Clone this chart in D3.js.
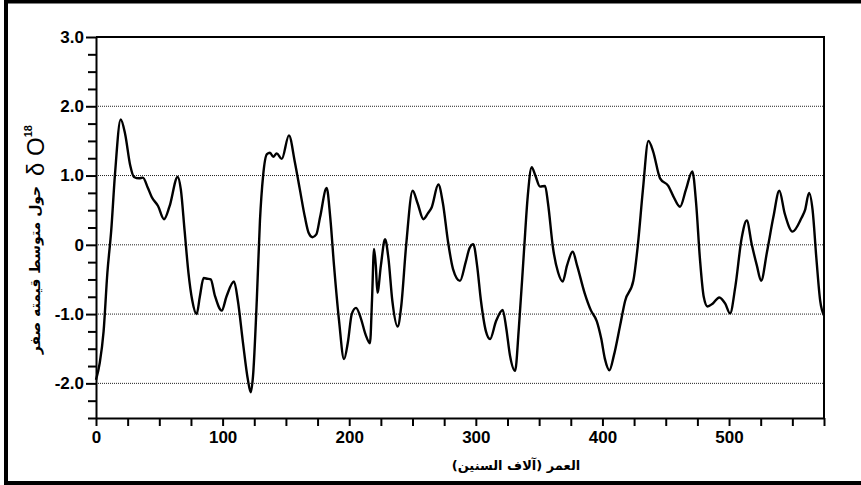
<!DOCTYPE html>
<html>
<head>
<meta charset="utf-8">
<script src="https://cdn.jsdelivr.net/npm/d3@7"></script>
<style>
body { margin: 0; background: #fff; }
svg { display: block; }
</style>
</head>
<body>
<script>
// Age in thousands of years
const ages = [0, 3, 6, 9, 12, 15, 19.5, 23, 27, 30, 34, 37, 41, 44, 49, 53.7, 58, 64.5, 67, 70,
73, 76, 79.5, 82, 85, 88, 90.6, 94, 99.3, 103, 109, 112, 116, 120, 122.2, 124, 127, 129.5, 132, 135,
137.4, 140, 142.7, 146.7, 152.4, 157, 161, 165, 168, 171, 174, 177, 182.2, 185, 188, 192, 195.9, 199, 202, 205.4,
209, 213, 216.4, 218, 219.6, 221, 222.3, 225, 228.3, 231, 234, 238.3, 241, 245, 250.1, 254, 258.6, 262, 265.1, 270.4,
274, 278, 282, 287.5, 292, 295, 298, 301, 304, 308, 311.2, 316, 321.2, 324, 327, 331, 334, 338, 341, 344.1,
347, 350.7, 354.7, 357, 361, 365, 368.6, 372, 376.5, 380, 386, 391, 395.5, 399, 402, 405.5, 409, 413.9, 417.9, 424.4,
428, 432, 436.3, 440, 445.5, 452, 456, 461.3, 466, 471, 474, 477, 480, 483, 487, 492.3, 497, 500.8, 505, 510,
514, 518, 522, 525.3, 530, 535, 539.7, 544, 550.2, 557.3, 560, 563.2, 566, 569, 572, 575];

// delta O18 around a zero mean
const d18O = [-1.95, -1.7, -1.25, -0.4, 0.2, 1.02, 1.81, 1.6, 1.15, 0.98, 0.96, 0.97, 0.82, 0.69, 0.56, 0.37, 0.55, 0.98, 0.8, 0.2,
-0.4, -0.8, -1.0, -0.75, -0.48, -0.49, -0.5, -0.74, -0.95, -0.75, -0.53, -0.8, -1.4, -1.95, -2.13, -1.9, -0.8, 0.35, 1.0, 1.31,
1.33, 1.27, 1.32, 1.24, 1.58, 1.2, 0.8, 0.4, 0.17, 0.11, 0.15, 0.4, 0.82, 0.4, -0.3, -1.1, -1.65, -1.4, -1.0, -0.91,
-1.05, -1.3, -1.42, -0.8, -0.06, -0.3, -0.69, -0.3, 0.08, -0.2, -0.8, -1.18, -0.9, 0, 0.78, 0.6, 0.37, 0.45, 0.54, 0.87,
0.6, 0.05, -0.35, -0.52, -0.25, -0.05, 0.01, -0.3, -0.8, -1.25, -1.36, -1.1, -0.94, -1.2, -1.6, -1.82, -1.2, -0.1, 0.7, 1.12,
1.0, 0.84, 0.85, 0.6, -0.05, -0.4, -0.53, -0.3, -0.1, -0.3, -0.7, -0.95, -1.1, -1.35, -1.65, -1.81, -1.6, -1.17, -0.81, -0.52,
0.0, 0.8, 1.5, 1.35, 0.96, 0.85, 0.7, 0.55, 0.8, 1.06, 0.6, -0.2, -0.75, -0.89, -0.85, -0.76, -0.85, -0.99, -0.6, 0.1,
0.35, 0.0, -0.3, -0.52, -0.1, 0.4, 0.78, 0.45, 0.19, 0.39, 0.5, 0.75, 0.5, -0.2, -0.81, -1.02];

const xTickValues = [0, 100, 200, 300, 400, 500];
const yTickValues = [3, 2, 1, 0, -1, -2];
const yTickLabels = ['3.0', '2.0', '1.0', '0', '-1.0', '-2.0'];
const gridValues = [2, 1, 0, -1, -2];
const xTitle = 'العمر (آلاف السنين)';
const yTitle = 'حول متوسط قيمته صفر';

const svgWidth = 861;
const svgHeight = 485;
const plotLeft = 96, plotRight = 824, plotTop = 37, plotBottom = 418;

const xScale = d3.scaleLinear()
.domain([0, 575])
.range([plotLeft, plotRight]);

const yScale = d3.scaleLinear()
.domain([-2.5, 3])
.range([plotBottom, plotTop]);

const svg = d3.select('body')
.append('svg')
.attr('width', svgWidth)
.attr('height', svgHeight);

// outer frame (right side falls off the picture)
svg.append('rect')
.attr('x', 6)
.attr('y', 1.5)
.attr('width', 870)
.attr('height', 481.5)
.attr('fill', 'none')
.attr('stroke', '#000')
.attr('stroke-width', 4);

// dotted gridlines
svg.selectAll('.grid')
.data(gridValues)
.enter()
.append('line')
.attr('class', 'grid')
.attr('x1', plotLeft)
.attr('x2', plotRight)
.attr('y1', d => yScale(d))
.attr('y2', d => yScale(d))
.attr('stroke', '#222')
.attr('stroke-width', 1)
.attr('stroke-dasharray', '1,1');

// top and right frame of the plot
svg.append('path')
.attr('d', `M${plotLeft},${plotTop}H${plotRight}V${plotBottom}`)
.attr('fill', 'none')
.attr('stroke', '#000')
.attr('stroke-width', 2);

const xAxis = d3.axisBottom(xScale)
.tickValues(d3.range(0, 576, 25))
.tickSize(8)
.tickSizeOuter(0)
.tickPadding(5)
.tickFormat(d => xTickValues.includes(d) ? String(d) : '');

const yAxis = d3.axisLeft(yScale)
.tickValues(d3.range(-2.5, 3.01, 0.25))
.tickSize(8)
.tickSizeOuter(0)
.tickPadding(4)
.tickFormat(d => {
    const i = yTickValues.indexOf(d);
    return i >= 0 ? yTickLabels[i] : '';
});

const gx = svg.append('g')
.attr('transform', `translate(0, ${plotBottom})`)
.call(xAxis);

const gy = svg.append('g')
.attr('transform', `translate(${plotLeft}, 0)`)
.call(yAxis);

[gx, gy].forEach(g => {
    g.attr('font-family', '"Liberation Sans", Arial, sans-serif')
    .attr('font-size', 17)
    .attr('font-weight', 'bold');
    g.selectAll('text').attr('fill', '#000');
    g.selectAll('line').attr('stroke', '#000').attr('stroke-width', 2);
    g.select('.domain').attr('stroke', '#000').attr('stroke-width', 2);
});

// longer major ticks on the y axis
gy.selectAll('.tick')
.filter(d => yTickValues.includes(d))
.select('line')
.attr('x2', -10);

// the curve
const line = d3.line()
.x(d => xScale(d[0]))
.y(d => yScale(d[1]))
.curve(d3.curveMonotoneX);

svg.append('path')
.datum(d3.zip(ages, d18O))
.attr('d', line)
.attr('fill', 'none')
.attr('stroke', '#000')
.attr('stroke-width', 2.4)
.attr('stroke-linejoin', 'round');

// axis titles
svg.append('text')
.attr('x', 516)
.attr('y', 470)
.attr('text-anchor', 'middle')
.attr('direction', 'rtl')
.attr('font-family', '"DejaVu Sans", sans-serif')
.attr('font-size', 13)
.attr('font-weight', 'bold')
.text(xTitle);

svg.append('text')
.attr('transform', 'translate(40, 270) rotate(-90)')
.attr('text-anchor', 'middle')
.attr('direction', 'rtl')
.attr('font-family', '"DejaVu Sans", sans-serif')
.attr('font-size', 14)
.attr('font-weight', 'bold')
.text(yTitle);

const delta = svg.append('text')
.attr('transform', 'translate(44, 176) rotate(-90)')
.attr('font-family', '"Liberation Sans", Arial, sans-serif')
.attr('font-size', 24);

delta.append('tspan').text('δ O');
delta.append('tspan')
.attr('font-size', 11)
.attr('font-weight', 'bold')
.attr('dy', -12)
.text('18');
</script>
</body>
</html>
